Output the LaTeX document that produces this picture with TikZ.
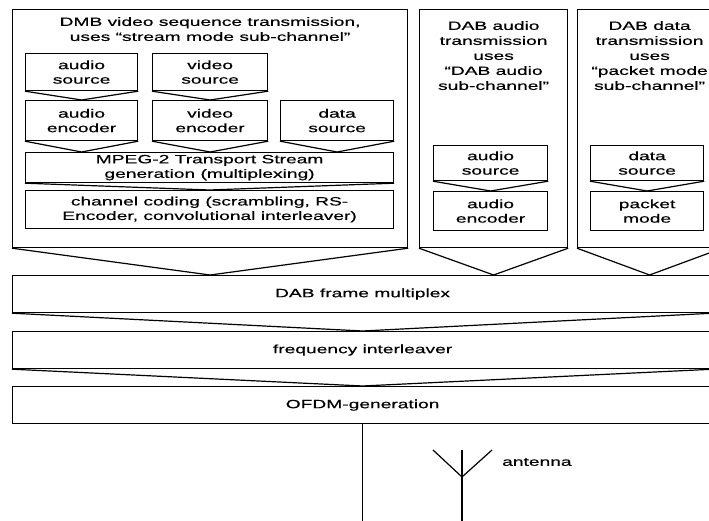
\documentclass[tikz,border=0pt]{standalone}
\usepackage{fontspec}
\setmainfont{Liberation Sans}[FakeStretch=1.6, FakeBold=0.5]
\usetikzlibrary{positioning,calc}
\tikzset{
  bx/.style={draw, line width=1.2pt, inner sep=0pt, anchor=north west, align=center, font=\fontsize{12}{14.5}\selectfont},
  blk/.style={bx, minimum width=#1},
  pnl/.style={bx, minimum height=238pt},
  ttl/.style={align=center, inner sep=0pt, font=\fontsize{12}{15}\selectfont},
  vee/.style={line width=1.2pt, line join=miter},
  lbl/.style={font=\fontsize{12}{14}\selectfont, anchor=west, inner sep=0pt},
}
% V-shaped bottom of box #1, its tip on the top edge of #2
\newcommand{\veeto}[2]{\draw[vee] (#1.south west) -- (#1.south |- #2.north) -- (#1.south east);}

\begin{document}
\begin{tikzpicture}[x=1pt, y=1pt]
  \useasboundingbox (0,0) rectangle (709,521);
  \clip (0,0) rectangle (709,521);
  % three transmission panels
  \node[pnl, minimum width=395pt] (dmb) at (12,512) {};
  \node[pnl, minimum width=148pt] (dabau) at (419,512) {};
  \node[pnl, minimum width=144pt] (dabdt) at (577,512) {};
  \node[ttl, below=8pt of dmb.north] (dmbttl) {DMB video sequence transmission,\\uses “stream mode sub-channel”};
  \node[ttl, below=12pt of dabau.north] (dabauttl) {DAB audio\\transmission\\uses\\“DAB audio\\sub-channel”};
  \node[ttl, below=12pt of dabdt.north] (dabdtttl) {DAB data\\transmission\\uses\\“packet mode\\sub-channel”};
  % DMB chain
  \node[blk=112pt, minimum height=37pt] (asrc) at (25,468) {audio\\source};
  \node[blk=115pt, minimum height=37pt] (vsrc) at (152,468) {video\\source};
  \node[blk=112pt, minimum height=40pt] (aenc) at (25,421) {audio\\encoder};
  \node[blk=115pt, minimum height=40pt] (venc) at (152,421) {video\\encoder};
  \node[blk=113pt, minimum height=40pt] (dsrc) at (280,421) {data\\source};
  \node[blk=368pt, minimum height=30pt] (ts) at (25,369) {MPEG-2 Transport Stream\\generation (multiplexing)};
  \node[blk=368pt, minimum height=38pt] (chc) at (25,331) {channel coding (scrambling, RS-\\Encoder, convolutional interleaver)};
  \veeto{asrc}{aenc} \veeto{vsrc}{venc}
  \veeto{aenc}{ts} \veeto{venc}{ts} \veeto{dsrc}{ts}
  \veeto{ts}{chc}
  % DAB audio / data chains
  \node[blk=114pt, minimum height=35pt] (mas) at (433,376) {audio\\source};
  \node[blk=114pt, minimum height=39pt] (mae) at (433,330) {audio\\encoder};
  \node[blk=113pt, minimum height=35pt] (rds) at (590,376) {data\\source};
  \node[blk=113pt, minimum height=39pt] (rpm) at (590,330) {packet\\mode};
  \veeto{mas}{mae} \veeto{rds}{rpm}
  % common chain
  \node[blk=700pt, minimum height=37pt] (frame) at (12,246) {DAB frame multiplex};
  \node[blk=700pt, minimum height=37pt] (fint) at (12,190) {frequency interleaver};
  \node[blk=700pt, minimum height=37pt] (ofdm) at (12,135) {OFDM-generation};
  \veeto{dmb}{frame} \veeto{dabau}{frame} \veeto{dabdt}{frame}
  \veeto{frame}{fint} \veeto{fint}{ofdm}
  \coordinate (feed) at ($(ofdm.south)+(0,-100)$);
  \draw[vee] (ofdm.south) -- (feed);
  % antenna
  \coordinate (ant) at (462,44);
  \coordinate (antl) at (433,71);
  \coordinate (antr) at (492,71);
  \coordinate (anttop) at (462,71);
  \coordinate (antfoot) at (462,-2);
  \draw[vee] (anttop) -- (antfoot);
  \draw[vee] (antl) -- (ant) -- (antr);
  \node[lbl] (antlbl) at (502,59) {antenna};
\end{tikzpicture}
\end{document}
